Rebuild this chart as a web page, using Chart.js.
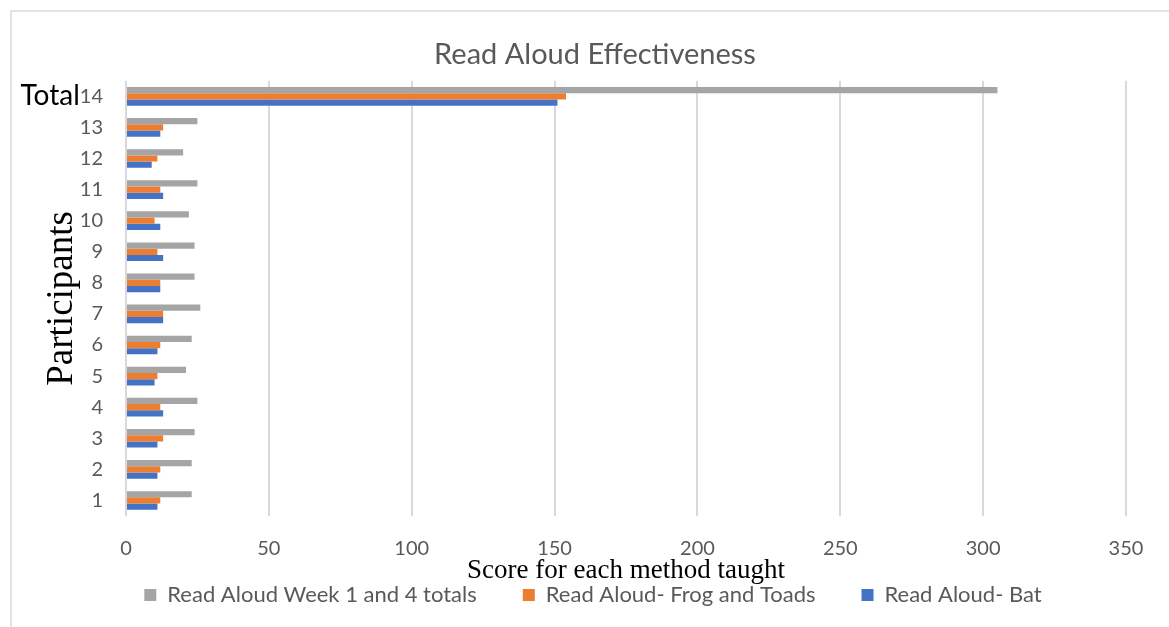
<!DOCTYPE html>
<html>
<head>
<meta charset="utf-8">
<script src="https://cdn.jsdelivr.net/npm/chart.js@4/dist/chart.umd.min.js"></script>
<style>
  html, body { margin: 0; padding: 0; background: #fff; }
  #wrap { width: 1169px; height: 627px; }
</style>
</head>
<body>
<div id="wrap"><canvas id="chart" width="1169" height="627"></canvas></div>
<script>
// Participants 1–13 plus the combined total row (category 14)
const participants = ['1', '2', '3', '4', '5', '6', '7', '8', '9', '10', '11', '12', '13', '14'];
const weekTotals   = [23, 23, 24, 25, 21, 23, 26, 24, 24, 22, 25, 20, 25, 305];
const frogAndToads = [12, 12, 13, 12, 11, 12, 13, 12, 11, 10, 12, 11, 13, 154];
const batScores    = [11, 11, 11, 13, 10, 11, 13, 12, 13, 12, 13,  9, 12, 151];
const scoreTicks   = [0, 50, 100, 150, 200, 250, 300, 350];
const totalRowLabel = 'Total';

const seriesNames = ['Read Aloud Week 1 and 4 totals', 'Read Aloud- Frog and Toads', 'Read Aloud- Bat'];
const seriesColors = ['#a5a5a5', '#ed7d31', '#4472c4'];

const GRID = '#d9d9d9';
const TEXT = '#595959';
const Y_TICK_PAD = 23;
const yTickFont = { family: 'Lato', size: 20, lineHeight: 1 };
const TITLE_SHIFT_X = 10;
const LEGEND_SHIFT_X = 8;

// Thin frame around the chart (left and top edges visible)
const framePlugin = {
  id: 'frame',
  beforeDraw(chart) {
    const { ctx, width, height } = chart;
    ctx.save();
    ctx.strokeStyle = GRID;
    ctx.lineWidth = 1.5;
    ctx.beginPath();
    ctx.moveTo(11, height);
    ctx.lineTo(11, 11);
    ctx.lineTo(width, 11);
    ctx.stroke();
    ctx.restore();
  }
};

// Chart.js applies labels.padding above the legend row as well as between
// items; keep the wide gaps between items but drop the space above the row.
// Title and legend are also nudged sideways to centre them on the frame.
const blockPlacementPlugin = {
  id: 'blockPlacement',
  afterInit(chart) {
    const legend = chart.legend;
    if (!legend) return;
    const fit = legend.fit;
    legend.fit = function () {
      fit.call(this);
      this.height -= this.options.labels.padding;
    };
  },
  afterLayout(chart) {
    const legend = chart.legend;
    if (legend) {
      legend.top -= legend.options.labels.padding;
      legend.left += LEGEND_SHIFT_X;
      legend.right += LEGEND_SHIFT_X;
    }
    const title = chart.titleBlock;
    if (title) {
      title.left += TITLE_SHIFT_X;
      title.right += TITLE_SHIFT_X;
    }
  }
};

// "Total" caption in front of the last category label
const totalLabelPlugin = {
  id: 'totalLabel',
  afterDraw(chart) {
    const y = chart.scales.y;
    const ctx = chart.ctx;
    const last = participants.length - 1;
    ctx.save();
    ctx.font = `${yTickFont.size}px ${yTickFont.family}`;
    const tickW = ctx.measureText(participants[last]).width;
    const xRight = y.right - Y_TICK_PAD - tickW;
    const yPix = y.getPixelForValue(last);
    ctx.font = '28px Lato';
    ctx.fillStyle = '#000';
    ctx.textAlign = 'right';
    ctx.textBaseline = 'middle';
    ctx.fillText(totalRowLabel, xRight, yPix);
    ctx.restore();
  }
};

const datasets = [weekTotals, frogAndToads, batScores].map((data, i) => ({
  label: seriesNames[i],
  data,
  backgroundColor: seriesColors[i],
  borderWidth: 0,
  barPercentage: 1.0,
  categoryPercentage: 0.6
}));

new Chart(document.getElementById('chart'), {
  type: 'bar',
  data: { labels: participants, datasets },
  plugins: [framePlugin, blockPlacementPlugin, totalLabelPlugin],
  options: {
    indexAxis: 'y',
    responsive: false,
    animation: false,
    devicePixelRatio: 1,
    layout: { padding: { left: 44, right: 43, top: 0, bottom: 11 } },
    plugins: {
      title: {
        display: true,
        text: 'Read Aloud Effectiveness',
        color: TEXT,
        font: { family: 'Lato', size: 29, weight: 'normal', lineHeight: 1.2 },
        padding: { top: 37, bottom: 9 }
      },
      legend: {
        position: 'bottom',
        labels: {
          color: TEXT,
          font: { family: 'Lato', size: 22 },
          boxWidth: 12,
          boxHeight: 12,
          padding: 46
        }
      },
      tooltip: { enabled: false }
    },
    scales: {
      x: {
        min: scoreTicks[0],
        max: scoreTicks[scoreTicks.length - 1],
        afterBuildTicks(scale) {
          scale.ticks = scoreTicks.map(v => ({ value: v }));
        },
        afterFit(scale) { scale.height = 68; },
        grid: { color: GRID, lineWidth: 2, drawTicks: false },
        border: { display: false },
        ticks: {
          color: TEXT,
          font: { family: 'Lato', size: 20, lineHeight: 1 },
          padding: 23
        },
        title: {
          display: true,
          text: 'Score for each method taught',
          color: '#000',
          font: { family: 'Liberation Serif', size: 27, lineHeight: 1 },
          padding: { top: 0, bottom: 0 }
        }
      },
      y: {
        reverse: true,
        afterFit(scale) { scale.width = 82; },
        grid: { display: false, drawTicks: false },
        border: { display: false },
        ticks: {
          color: TEXT,
          font: yTickFont,
          padding: Y_TICK_PAD
        },
        title: {
          display: true,
          text: 'Participants',
          color: '#000',
          font: { family: 'Liberation Serif', size: 37, lineHeight: 1 },
          padding: { top: 0, bottom: 3 }
        }
      }
    }
  }
});
</script>
</body>
</html>
